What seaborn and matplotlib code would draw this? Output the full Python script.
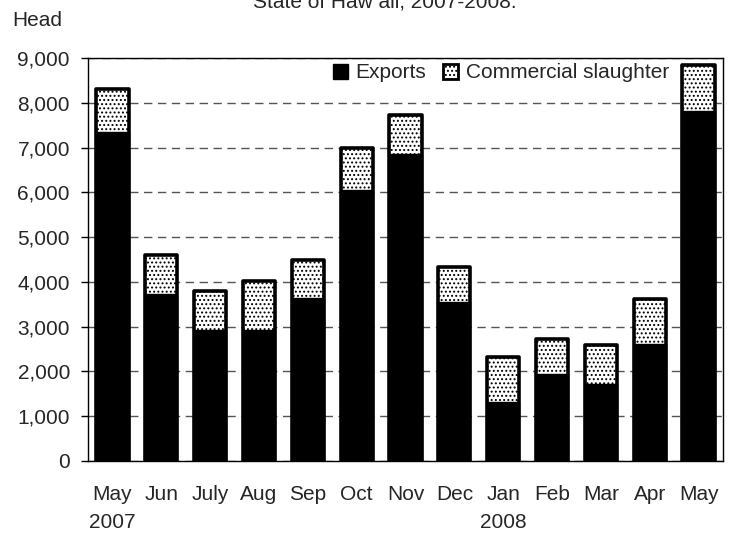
import matplotlib
matplotlib.use("Agg")
import matplotlib.pyplot as plt
import seaborn as sns
import pandas as pd
from matplotlib.patches import Patch

# Data (head of cattle)
months = ["May", "Jun", "July", "Aug", "Sep", "Oct", "Nov", "Dec",
          "Jan", "Feb", "Mar", "Apr", "May"]
years = ["2007", "", "", "", "", "", "", "", "2008", "", "", "", ""]
exports = [7350, 3730, 2920, 2920, 3640, 6050, 6850, 3550,
           1320, 1940, 1720, 2610, 7820]
slaughter = [950, 870, 880, 1100, 860, 950, 870, 780,
             1010, 790, 870, 1010, 1020]

keys = [f"{m} {i}" for i, m in enumerate(months)]
df = pd.DataFrame({"key": keys, "exports": exports,
                   "total": [e + s for e, s in zip(exports, slaughter)]})

sns.set_style("white")
plt.rcParams["font.family"] = ["Liberation Sans", "DejaVu Sans"]
plt.rcParams["hatch.linewidth"] = 0.9
fs = 15

fig = plt.figure(figsize=(7.3, 5.33), dpi=100)
ax = fig.add_axes([88 / 730, 72 / 533, 635 / 730, 403 / 533])

# totals (hatched) first, exports drawn over them
sns.barplot(data=df, x="key", y="total", order=keys, color="white",
            edgecolor="black", linewidth=2.6, width=0.66, ax=ax, zorder=3)
for p in ax.patches:
    p.set_hatch("....")
    p.set_joinstyle("round")
n = len(ax.patches)
sns.barplot(data=df, x="key", y="exports", order=keys, color="black",
            edgecolor="black", linewidth=1.0, width=0.66, ax=ax, zorder=4)
for p in ax.patches[n:]:
    p.set_joinstyle("round")

ax.set_ylim(0, 9000)
ax.set_xlim(-0.5, len(months) - 0.5)
ax.set_yticks(range(0, 9001, 1000))
ax.set_yticklabels([f"{v:,}" for v in range(0, 9001, 1000)], fontsize=fs)
ax.yaxis.grid(True, linestyle=(0, (6, 4)), color="#555555", linewidth=1.0, zorder=0)
ax.set_axisbelow(True)

ax.set_xticks(range(len(months)))
ax.set_xticklabels(months, fontsize=fs)
ax.tick_params(axis="x", length=0, pad=17)
ax.set_xticks([i - 0.5 for i in range(len(months) + 1)], minor=True)
ax.tick_params(axis="x", which="minor", length=5, width=1, direction="out", color="black")
ax.tick_params(axis="y", length=5, width=1, direction="out", color="black", left=True, pad=8)
ax.set_xlabel("")
ax.set_ylabel("")

for s in ax.spines.values():
    s.set_color("black")
    s.set_linewidth(1.0)

for i, y in enumerate(years):
    if y:
        ax.text(i, -0.152, y, transform=ax.get_xaxis_transform(),
                ha="center", va="center", fontsize=fs)

handles = [Patch(facecolor="black", edgecolor="black", label="Exports"),
           Patch(facecolor="white", edgecolor="black", hatch="....", linewidth=2,
                 label="Commercial slaughter")]
ax.legend(handles=handles, loc="center right", bbox_to_anchor=(0.915, 0.963),
          frameon=False, fontsize=fs, handlelength=0.75, handleheight=0.75,
          handletextpad=0.35, columnspacing=0.8, ncol=2, borderaxespad=0,
          borderpad=0)

fig.text(12 / 730, 1 - 26 / 533, "Head", fontsize=fs, va="baseline")
fig.text(385 / 730, 1 - 8 / 533, "State of Haw aii, 2007-2008.", fontsize=fs,
         ha="center", va="baseline")

fig.savefig("out.png", dpi=100)
